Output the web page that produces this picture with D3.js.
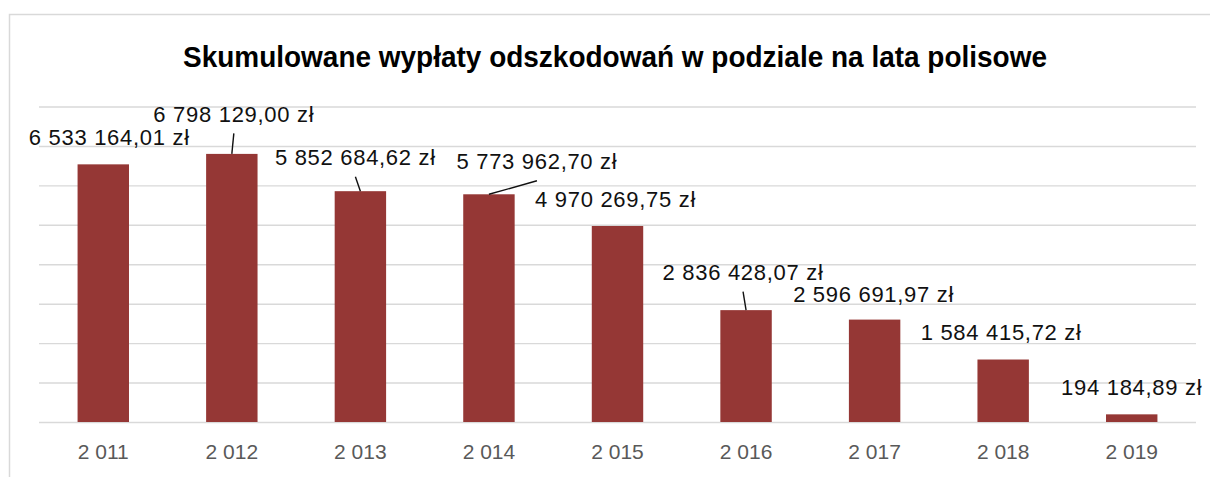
<!DOCTYPE html>
<html>
<head>
<meta charset="utf-8">
<script src="https://cdn.jsdelivr.net/npm/d3@7"></script>
<style>
  body { margin: 0; background: #fff; }
  svg { display: block; font-family: "Liberation Sans", Arial, sans-serif; }
</style>
</head>
<body>
<div id="chart"></div>
<script>
const years = ["2011", "2012", "2013", "2014", "2015", "2016", "2017", "2018", "2019"];
const yearLabels = ["2 011", "2 012", "2 013", "2 014", "2 015", "2 016", "2 017", "2 018", "2 019"];
const payouts = [6533164.01, 6798129.00, 5852684.62, 5773962.70, 4970269.75, 2836428.07, 2596691.97, 1584415.72, 194184.89];
const yTicks = [0, 1000000, 2000000, 3000000, 4000000, 5000000, 6000000, 7000000, 8000000];

// manual label placement (Excel-style dragged labels), px offsets from bar top/centre
const labelDx = [6, 2, -5, 48, -2, -3, -1, -2, 0];
const labelDy = [-19, -32, -26, -25, -19, -30, -18, -19.5, -19];
const hasLeader = [false, true, true, true, false, true, false, false, false];

const width = 1210;
const height = 477;
const plot = { left: 39, right: 1196, top: 106.5, bottom: 422 };

const pl = d3.formatLocale({ decimal: ",", thousands: " ", grouping: [3], currency: ["", " zł"] });
const fmt = pl.format("$,.2f");

const svg = d3.select("#chart").append("svg")
    .attr("width", width)
    .attr("height", height);

// chart frame
svg.append("rect")
    .attr("x", 9.5).attr("y", 14.5)
    .attr("width", 1400).attr("height", 700)
    .attr("fill", "none")
    .attr("stroke", "#d9d9d9")
    .attr("stroke-width", 1.5);

svg.append("text")
    .attr("x", 615)
    .attr("y", 67)
    .attr("text-anchor", "middle")
    .attr("font-weight", "bold")
    .attr("font-size", 29)
    .attr("fill", "#000")
    .attr("textLength", 864)
    .attr("lengthAdjust", "spacingAndGlyphs")
    .text("Skumulowane wypłaty odszkodowań w podziale na lata polisowe");

const xScale = d3.scaleBand()
    .domain(years)
    .range([plot.left, plot.right])
    .paddingInner(0.6)
    .paddingOuter(0.3);

const yScale = d3.scaleLinear()
    .domain([0, 8000000])
    .range([plot.bottom, plot.top]);

// gridlines
const grid = svg.append("g")
    .attr("transform", `translate(${plot.left},0)`)
    .call(d3.axisLeft(yScale).tickValues(yTicks).tickSize(-(plot.right - plot.left)).tickFormat(""));
grid.select(".domain").remove();
grid.selectAll(".tick line").attr("stroke", "#d9d9d9").attr("stroke-width", 1.4);

// x axis labels
const xAxis = svg.append("g")
    .attr("transform", `translate(0,${plot.bottom})`)
    .call(d3.axisBottom(xScale).tickSize(0).tickPadding(22).tickFormat((d, i) => yearLabels[i]));
xAxis.select(".domain").remove();
xAxis.selectAll("text")
    .attr("font-size", 21)
    .attr("font-family", "Liberation Sans, Arial, sans-serif")
    .attr("fill", "#595959");

const bars = years.map((y, i) => ({ year: y, value: payouts[i], i: i }));

svg.append("g").selectAll("rect")
    .data(bars)
    .enter()
    .append("rect")
    .attr("x", d => xScale(d.year))
    .attr("y", d => yScale(d.value))
    .attr("width", xScale.bandwidth())
    .attr("height", d => plot.bottom - yScale(d.value))
    .attr("fill", "#953735");

const cx = d => xScale(d.year) + xScale.bandwidth() / 2;

// leader lines
svg.append("g").selectAll("line")
    .data(bars.filter(d => hasLeader[d.i]))
    .enter()
    .append("line")
    .attr("x1", d => cx(d))
    .attr("y1", d => yScale(d.value))
    .attr("x2", d => cx(d) + labelDx[d.i])
    .attr("y2", d => yScale(d.value) + labelDy[d.i] + 11.5)
    .attr("stroke", "#111")
    .attr("stroke-width", 1.4);

// data labels
svg.append("g").selectAll("text")
    .data(bars)
    .enter()
    .append("text")
    .attr("x", d => cx(d) + labelDx[d.i])
    .attr("y", d => yScale(d.value) + labelDy[d.i])
    .attr("text-anchor", "middle")
    .attr("font-size", 22)
    .attr("letter-spacing", 0.7)
    .attr("fill", "#111")
    .text(d => fmt(d.value));
</script>
</body>
</html>
